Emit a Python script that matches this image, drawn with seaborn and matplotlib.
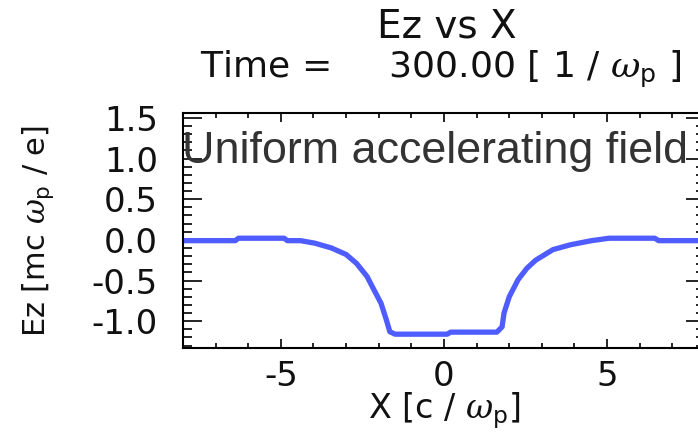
import numpy as np
import pandas as pd
import seaborn as sns
import matplotlib
matplotlib.use("Agg")
import matplotlib.pyplot as plt
from matplotlib.ticker import MultipleLocator

# Data
x_vals = [-8.0, -6.4, -6.3, -4.9, -4.8, -4.4, -3.97, -3.45, -3.0, -2.68, -2.36, -2.14,
          -1.93, -1.77, -1.66, -1.50, 0.1, 0.2, 1.62, 1.78, 1.84, 2.0, 2.27, 2.54,
          2.81, 3.34, 3.88, 4.52, 5.06, 6.46, 6.58, 8.0]
ez_vals = [-0.01, -0.01, 0.02, 0.02, -0.01, -0.01, -0.04, -0.10, -0.18, -0.29, -0.45, -0.62,
           -0.78, -0.98, -1.13, -1.16, -1.16, -1.135, -1.135, -1.07, -0.90, -0.70, -0.49, -0.35,
           -0.25, -0.12, -0.06, -0.01, 0.02, 0.02, -0.01, -0.01]

title = "Ez vs X"
subtitle = r"Time =     300.00 [ 1 / $\omega_\mathrm{p}$ ]"
xlabel = r"X [c / $\omega_\mathrm{p}$]"
ylabel = r"Ez [mc $\omega_\mathrm{p}$ / e]"
annotation = "Uniform accelerating field"
xticks = [-5, 0, 5]
yticks = [-1.0, -0.5, 0.0, 0.5, 1.0, 1.5]

df = pd.DataFrame({"X": x_vals, "Ez": ez_vals})

sns.set_theme(style="ticks")
plt.rcParams["font.family"] = ["DejaVu Sans"]
plt.rcParams["axes.unicode_minus"] = False
plt.rcParams["mathtext.fontset"] = "custom"
plt.rcParams["mathtext.rm"] = "DejaVu Sans"
plt.rcParams["mathtext.it"] = "DejaVu Serif:italic"
plt.rcParams["text.color"] = "#111111"
plt.rcParams["axes.labelcolor"] = "#111111"
plt.rcParams["xtick.labelcolor"] = "#111111"
plt.rcParams["ytick.labelcolor"] = "#111111"

W, H = 698, 433
fig = plt.figure(figsize=(W / 100, H / 100), dpi=100)
ax = fig.add_axes([183 / W, 85 / H, (705 - 183) / W, (348 - 113) / H])

sns.lineplot(data=df, x="X", y="Ez", ax=ax, color="#4f5cff", linewidth=3.8)

ax.set_xlim(-8, 8)
ax.set_ylim(-1.33, 1.56)
ax.set_xticks(xticks)
ax.set_xticklabels([f"{t:g}" for t in xticks])
ax.set_yticks(yticks)
ax.set_yticklabels([f"{t:.1f}" for t in yticks])
ax.xaxis.set_minor_locator(MultipleLocator(1))
ax.yaxis.set_minor_locator(MultipleLocator(0.1))

ax.tick_params(axis="both", which="both", direction="in", top=True, right=True,
               color="black", width=1.2)
ax.tick_params(axis="x", which="major", length=6.5, labelsize=24.5, pad=9)
ax.tick_params(axis="x", which="minor", length=3.6)
ax.tick_params(axis="y", which="major", length=13.7, labelsize=24.5, pad=18)
ax.tick_params(axis="y", which="minor", length=6.5)
for s in ax.spines.values():
    s.set_linewidth(1.5)
    s.set_color("black")

ax.set_xlabel(xlabel, fontsize=24, labelpad=-2)
ax.set_ylabel(ylabel, fontsize=22)
ax.yaxis.set_label_coords((56 - 183) / 522, 0.5)

fig.text(447 / W, 1 - 38 / H, title, ha="center", va="baseline", fontsize=28)
fig.text(441 / W, 1 - 78 / H, subtitle, ha="center", va="baseline", fontsize=26)
fig.text(182 / W, 1 - 163 / H, annotation, ha="left", va="baseline",
         fontsize=32.3, color="#333333", family="Liberation Sans")

fig.savefig("out.png", dpi=100, facecolor="white")
